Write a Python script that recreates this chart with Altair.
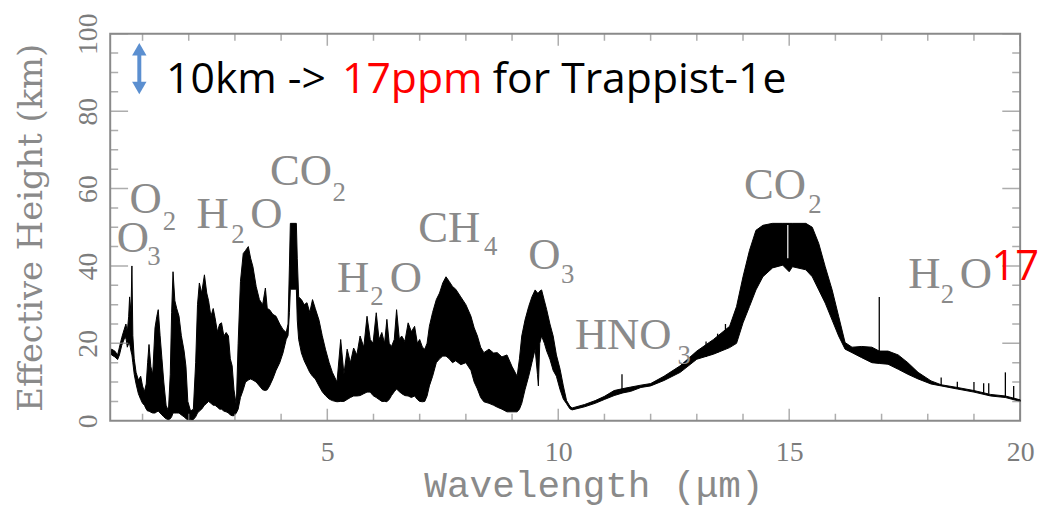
import altair as alt
import pandas as pd

# ---------------- spectrum (envelope) ----------------
wavelength = [0.33, 0.40, 0.46, 0.50, 0.55, 0.60, 0.64, 0.67, 0.70, 0.72, 0.75, 0.77, 0.79, 0.82, 0.86,
              0.91, 0.96, 1.00, 1.04, 1.08, 1.11, 1.14, 1.18, 1.22, 1.27, 1.31, 1.34, 1.38, 1.42, 1.46,
              1.51, 1.56, 1.60, 1.63, 1.66, 1.70, 1.74, 1.79, 1.84, 1.90, 1.94, 1.98, 2.04, 2.10, 2.15,
              2.19, 2.23, 2.28, 2.34, 2.39, 2.43, 2.48, 2.53, 2.57, 2.62, 2.67, 2.71, 2.76, 2.81, 2.86,
              2.90, 2.94, 2.98, 3.03, 3.07, 3.12, 3.18, 3.23, 3.29, 3.34, 3.39, 3.46, 3.53, 3.60, 3.66,
              3.70, 3.75, 3.82, 3.89, 3.97, 4.04, 4.11, 4.15, 4.18, 4.20, 4.33, 4.35, 4.38, 4.44, 4.50,
              4.56, 4.62, 4.68, 4.74, 4.82, 4.89, 4.96, 5.04, 5.11, 5.21, 5.29, 5.36, 5.43, 5.50, 5.57,
              5.64, 5.71, 5.79, 5.86, 5.93, 5.99, 6.06, 6.12, 6.18, 6.24, 6.29, 6.34, 6.39, 6.45, 6.50,
              6.56, 6.61, 6.68, 6.75, 6.82, 6.89, 6.95, 7.00, 7.06, 7.11, 7.16, 7.21, 7.28, 7.36, 7.43,
              7.50, 7.57, 7.64, 7.71, 7.78, 7.89, 8.00, 8.11, 8.18, 8.25, 8.32, 8.39, 8.50, 8.60, 8.68,
              8.78, 8.89, 9.00, 9.11, 9.16, 9.21, 9.28, 9.36, 9.43, 9.50, 9.55, 9.57, 9.60, 9.64, 9.70,
              9.75, 9.82, 9.89, 9.96, 10.04, 10.11, 10.18, 10.25, 10.30, 10.57, 10.80, 11.00, 11.21, 11.40, 11.57,
              11.79, 12.00, 12.29, 12.64, 13.00, 13.36, 13.71, 13.86, 14.00, 14.14, 14.28, 14.43, 14.64, 14.86, 15.00,
              15.07, 15.36, 15.50, 15.64, 15.78, 15.93, 16.07, 16.21, 16.36, 16.57, 16.79, 16.95, 17.14, 17.36, 17.57,
              17.79, 18.07, 18.29, 18.64, 19.00, 19.36, 19.68, 20.00]
upper = [18.5, 18.0, 17.0, 19.0, 21.5, 23.5, 25.0, 23.0, 27.0, 32.0, 28.0, 40.0, 22.0, 16.0, 12.5,
         10.5, 11.5, 9.0, 7.5, 9.5, 15.0, 19.7, 14.0, 12.0, 24.0, 27.0, 28.7, 22.0, 16.0, 10.0,
         4.0, 2.5, 12.0, 28.0, 38.5, 31.0, 29.0, 27.0, 22.0, 18.0, 14.0, 5.0, 2.5, 3.0, 15.0,
         30.0, 35.6, 33.0, 37.7, 33.0, 31.0, 27.0, 29.0, 26.6, 23.0, 25.0, 25.3, 21.9, 22.8, 21.9,
         16.0, 14.2, 8.0, 4.0, 20.0, 36.0, 43.2, 44.0, 45.0, 42.0, 39.8, 34.7, 31.3, 30.0, 34.3,
         29.0, 28.7, 27.5, 27.0, 25.0, 23.6, 22.8, 25.0, 40.0, 51.0, 51.0, 42.0, 32.0, 31.3, 30.0,
         30.5, 28.0, 31.3, 29.0, 26.0, 22.0, 18.5, 15.0, 12.5, 10.0, 21.0, 12.0, 18.5, 15.0, 18.8,
         17.0, 21.9, 19.0, 27.0, 21.0, 20.0, 27.9, 21.0, 22.8, 20.0, 26.2, 20.0, 19.2, 21.0, 28.7,
         21.0, 21.9, 20.5, 25.3, 23.0, 24.4, 20.0, 21.0, 19.0, 18.5, 20.0, 24.4, 28.0, 31.3, 33.0,
         35.6, 37.2, 36.0, 34.7, 34.0, 32.0, 30.0, 27.0, 24.0, 21.9, 19.0, 17.6, 18.5, 17.5, 17.6,
         16.5, 17.0, 14.0, 11.5, 16.0, 21.9, 26.0, 29.5, 32.0, 33.8, 33.0, 33.0, 33.5, 33.8, 31.0,
         28.7, 25.0, 21.9, 17.0, 13.3, 9.0, 5.2, 3.8, 3.3, 4.2, 5.2, 6.3, 7.8, 8.3, 8.7,
         9.2, 9.6, 11.5, 14.2, 18.0, 21.0, 24.4, 29.5, 37.2, 44.0, 49.2, 50.5, 51.0, 51.0, 51.0,
         51.0, 51.0, 50.0, 45.8, 39.8, 33.8, 27.0, 20.2, 19.0, 19.2, 19.0, 18.0, 18.0, 17.0, 15.0,
         12.5, 10.3, 9.3, 8.6, 7.8, 6.8, 6.4, 5.4]
lower = [17.0, 16.5, 15.8, 17.0, 19.5, 21.0, 21.5, 19.0, 20.0, 20.0, 18.0, 17.0, 15.0, 12.0, 9.5,
         7.0, 5.5, 4.5, 4.0, 3.0, 2.5, 2.5, 2.2, 2.0, 2.0, 2.3, 2.5, 2.0, 1.5, 1.0,
         0.5, 0.3, 0.5, 1.0, 2.0, 2.0, 2.0, 2.0, 1.5, 1.0, 0.5, 0.3, 0.3, 0.3, 1.0,
         2.0, 2.5, 3.0, 4.0, 4.5, 5.0, 4.5, 4.0, 4.0, 3.5, 3.0, 3.0, 2.5, 2.3, 2.0,
         1.5, 1.3, 1.3, 2.0, 3.0, 6.0, 8.0, 10.0, 10.5, 10.8, 10.5, 10.0, 9.0, 8.0, 7.8,
         8.0, 9.0, 10.8, 13.0, 15.0, 17.5, 21.0, 22.0, 28.0, 34.0, 34.0, 26.0, 21.0, 17.5, 15.5,
         14.0, 12.5, 11.5, 10.8, 9.0, 7.5, 6.5, 5.6, 5.2, 4.9, 5.0, 5.0, 5.5, 6.0, 6.4,
         6.4, 6.5, 7.0, 7.4, 7.4, 6.5, 6.0, 5.5, 5.0, 5.0, 4.9, 5.5, 6.5, 7.5, 8.2,
         7.5, 7.0, 6.5, 6.4, 6.0, 6.4, 5.5, 5.0, 4.9, 5.0, 6.4, 9.0, 11.5, 15.0, 16.0,
         16.7, 16.7, 16.0, 15.0, 15.5, 14.5, 15.0, 13.0, 10.0, 8.2, 6.0, 4.9, 4.5, 4.0, 3.5,
         3.0, 2.3, 2.3, 2.3, 3.0, 4.5, 8.0, 11.5, 15.0, 18.5, 12.0, 9.0, 20.0, 21.9, 20.0,
         18.0, 15.9, 13.0, 11.5, 8.0, 5.6, 4.4, 3.1, 2.8, 3.6, 4.5, 5.5, 6.5, 7.2, 7.6,
         8.6, 9.0, 10.4, 12.5, 15.9, 17.2, 18.9, 20.0, 25.3, 29.5, 33.8, 37.2, 39.5, 40.2, 38.5,
         39.8, 39.0, 37.2, 33.8, 30.4, 26.0, 21.9, 18.5, 17.6, 16.3, 15.0, 14.8, 14.6, 13.3, 12.0,
         10.8, 9.5, 9.0, 8.2, 7.4, 6.4, 6.0, 5.0]

# isolated narrow lines
spike_w = [11.38, 13.20, 13.45, 13.62, 16.95, 18.29, 18.64, 19.00, 19.21, 19.32, 19.68, 19.86]
spike_top = [12.0, 20.5, 22.5, 25.0, 32.0, 11.2, 10.1, 10.0, 9.7, 9.7, 12.5, 9.0]
spike_base = [7.3, 16.5, 17.5, 18.5, 15.0, 9.0, 8.3, 7.5, 7.1, 7.0, 6.1, 5.6]

# axis ticks
x_major = [5, 10, 15, 20]
x_minor = [1, 2, 3, 4, 6, 7, 8, 9, 11, 12, 13, 14, 16, 17, 18, 19]
y_major = [0, 20, 40, 60, 80, 100]
y_minor = [5, 10, 15, 25, 30, 35, 45, 50, 55, 65, 70, 75, 85, 90, 95]

# molecule labels (main letters and subscripts)
mol_text = ["O", "O", "H", "O", "CO", "H", "O", "CH", "O", "HNO", "CO", "H", "O"]
mol_x = [0.44, 0.72, 2.17, 3.33, 3.76, 5.21, 6.35, 6.97, 9.35, 10.36, 14.02, 17.58, 18.69]
mol_y = [43.6, 53.6, 49.7, 49.7, 60.8, 33.3, 33.3, 46.2, 39.2, 18.5, 57.2, 34.4, 34.4]
sub_text = ["3", "2", "2", "2", "2", "4", "3", "3", "2", "2"]
sub_x = [1.10, 1.44, 2.92, 5.11, 5.93, 8.39, 10.06, 12.58, 15.41, 18.28]
sub_y = [40.3, 49.2, 45.9, 56.9, 30.0, 42.8, 35.6, 14.6, 53.6, 30.3]

# headline annotation
note_text = ["10km ->", "17ppm", "for Trappist-1e"]
note_x = [1.51, 5.32, 8.58]
note_y = [84.6, 84.6, 84.6]
note_color = ["black", "red", "black"]
arrow_x = [0.93]
arrow_lo = [86.0]
arrow_hi = [96.0]
side_text = ["17"]
side_x = [19.38]
side_y = [36.4]

GRAY = "#8a8a8a"
LGRAY = "#7c7c7c"

band = pd.DataFrame({"w": wavelength, "hi": upper, "lo": lower})
spikes = pd.DataFrame({"w": spike_w, "hi": spike_top, "lo": spike_base})
mol = pd.DataFrame({"w": mol_x, "hi": mol_y, "t": mol_text})
sub = pd.DataFrame({"w": sub_x, "hi": sub_y, "t": sub_text})
note = pd.DataFrame({"w": note_x, "hi": note_y, "t": note_text, "c": note_color})
arrow = pd.DataFrame({"w": arrow_x, "lo": arrow_lo, "hi": arrow_hi})
side = pd.DataFrame({"w": side_x, "hi": side_y, "t": side_text})

xs = alt.Scale(domain=[0.3, 20], nice=False, zero=False)
ys = alt.Scale(domain=[0, 100], nice=False, zero=False)

x_axis = alt.Axis(values=x_major, ticks=False, domain=False, grid=False,
                  labelFont="Liberation Serif", labelFontSize=28, labelColor=LGRAY,
                  labelPadding=18, labelFlush=False, labelOverlap=False,
                  title="Wavelength (μm)", titleFont="Liberation Mono", titleFontSize=38,
                  titleFontWeight="normal", titleColor=GRAY, titleX=487, titleY=76,
                  titleBaseline="alphabetic", titleAlign="center")
y_axis = alt.Axis(values=y_major, ticks=False, domain=False, grid=False,
                  labelFont="Liberation Serif", labelFontSize=28, labelColor=LGRAY,
                  labelAngle=270, labelAlign="center", labelBaseline="alphabetic",
                  labelPadding=14, labelFlush=False, labelOverlap=False,
                  title="Effective Height (km)", titleFont="DejaVu Serif", titleFontSize=34,
                  titleFontWeight="normal", titleColor=GRAY, titleAngle=270,
                  titleX=-69, titleY=195, titleBaseline="alphabetic", titleAlign="center")


def X(field="w"):
    return alt.X(f"{field}:Q", scale=xs, axis=x_axis)


def Y(field="hi"):
    return alt.Y(f"{field}:Q", scale=ys, axis=y_axis)


area = alt.Chart(band).mark_area(color="black", stroke="black", strokeWidth=1,
                                 interpolate="linear").encode(x=X(), y=Y(), y2="lo:Q")

spike_layer = alt.Chart(spikes).mark_rule(color="black", strokeWidth=1.3).encode(
    x=X(), y=Y(), y2="lo:Q")

notch = alt.Chart(pd.DataFrame({"w": [14.97], "hi": [50.6], "lo": [42.0]})).mark_rule(
    color="white", strokeWidth=1.2).encode(x=X(), y=Y(), y2="lo:Q")


def ticks(values, along, length, at):
    if along == "x":
        df = pd.DataFrame({"w": values, "hi": [at] * len(values)})
        orient = "vertical"
    else:
        df = pd.DataFrame({"hi": values, "w": [at] * len(values)})
        orient = "horizontal"
    return alt.Chart(df).mark_tick(orient=orient, size=2 * length, thickness=1.5,
                                   color=GRAY, clip=True).encode(x=X(), y=Y())


tick_layers = [
    ticks(x_major, "x", 12, 0), ticks(x_minor, "x", 7, 0),
    ticks(x_major, "x", 12, 100), ticks(x_minor, "x", 7, 100),
    ticks(y_major, "y", 18, 0.3), ticks(y_minor, "y", 8, 0.3),
    ticks(y_major, "y", 18, 20), ticks(y_minor, "y", 8, 20),
]

mol_layer = alt.Chart(mol).mark_text(font="Liberation Serif", fontSize=45, color=GRAY,
                                     align="left", baseline="alphabetic").encode(
    x=X(), y=Y(), text="t:N")
sub_layer = alt.Chart(sub).mark_text(font="Liberation Serif", fontSize=27, color=GRAY,
                                     align="left", baseline="alphabetic").encode(
    x=X(), y=Y(), text="t:N")

note_layer = alt.Chart(note).mark_text(font="Open Sans", fontSize=43, align="left",
                                       baseline="alphabetic").encode(
    x=X(), y=Y(), text="t:N", color=alt.Color("c:N", scale=None))

side_layer = alt.Chart(side).mark_text(font="Open Sans", fontSize=42, align="left",
                                       baseline="alphabetic", color="red").encode(
    x=X(), y=Y(), text="t:N")

ARROW = "#5b8fd0"
shaft = alt.Chart(arrow).mark_rule(color=ARROW, strokeWidth=4).encode(
    x=X(), y=Y("lo"), y2="hi:Q")
head_up = alt.Chart(arrow).mark_point(shape="triangle-up", filled=True, size=210,
                                      color=ARROW, opacity=1).encode(x=X(), y=Y("hi"))
head_down = alt.Chart(arrow).mark_point(shape="triangle-down", filled=True, size=210,
                                        color=ARROW, opacity=1).encode(x=X(), y=Y("lo"))

chart = alt.layer(
    area, spike_layer, notch, *tick_layers, mol_layer, sub_layer,
    shaft, head_up, head_down, note_layer, side_layer
).properties(
    width=917, height=390,
    autosize=alt.AutoSizeParams(type="none"),
    padding={"left": 103, "top": 24, "right": 19, "bottom": 87},
    background="white",
).configure_view(stroke=GRAY, strokeWidth=2)

chart.save("out.html", embed_options={"renderer": "svg", "actions": False})
